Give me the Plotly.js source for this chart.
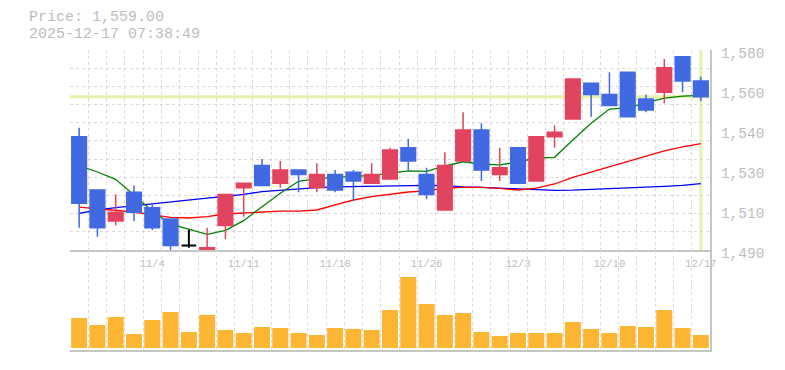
<!DOCTYPE html>
<html><head><meta charset="utf-8">
<script src="https://cdn.plot.ly/plotly-3.0.1.min.js"></script>
<style>html,body{margin:0;padding:0;background:#fff}#chart{width:785px;height:370px}</style>
</head><body><div id="chart"></div>
<script>
// ---- data ----
const dates = ['10/28','10/29','10/30','10/31','11/4','11/5','11/6','11/7','11/10','11/11',
  '11/12','11/13','11/14','11/17','11/18','11/19','11/20','11/21','11/25','11/26',
  '11/27','11/28','12/1','12/2','12/3','12/4','12/5','12/8','12/9','12/10',
  '12/11','12/12','12/15','12/16','12/17'];
const open  = [1541,1517,1503,1516,1509,1504,1492,1487,1501,1518,1528,1520,1526,1518,1524,1525,1520,1522,1536,1524,1508,1530,1544,1524,1536,1521,1541,1549,1565,1560,1570,1558,1561,1577,1566];
const high  = [1545,1517,1515,1519,1511,1504,1499,1500,1515,1520,1531,1530,1526,1529,1526,1526,1529,1536,1540,1527,1534,1552,1547,1536,1536,1541,1546,1567,1565,1570,1570,1560,1576,1577,1568];
const low   = [1500,1496,1501,1503,1499,1489,1491,1485,1495,1505,1519,1518,1516,1516,1516,1512,1520,1522,1526,1513,1508,1530,1521,1521,1520,1521,1536,1549,1550,1555,1550,1552,1556,1561,1557];
const close = [1511,1500,1507,1507,1500,1492,1492,1491,1515,1520,1519,1526,1524,1524,1517,1521,1524,1535,1530,1515,1528,1544,1526,1527,1520,1541,1543,1567,1560,1555,1550,1553,1572,1566,1559];
const volume = [30000,23000,31000,14000,28000,36000,16000,33000,18000,15000,21000,20000,15000,13000,20000,19000,18000,38000,71000,44000,33000,35000,16000,12000,15000,15000,15000,26000,19000,15000,22000,21000,38000,20000,13000];
const ma5  = [1528.0,1525.1,1521.8,1514.8,1507.6,1501.6,1499.2,1497.0,1498.8,1503.2,1509.5,1515.5,1520.9,1522.1,1522.7,1523.2,1523.6,1524.5,1525.6,1525.4,1527.8,1529.7,1528.7,1528.3,1529.6,1531.4,1531.7,1539.5,1547.0,1553.4,1554.0,1556.2,1558.3,1559.2,1559.6];
const ma25 = [1509.3,1508.6,1508.0,1507.1,1505.8,1504.7,1504.4,1505.0,1506.2,1506.7,1506.9,1507.5,1507.5,1508.0,1510.3,1512.5,1514.0,1514.9,1516.1,1516.6,1517.8,1518.2,1518.2,1517.7,1517.0,1517.8,1519.7,1522.7,1525.1,1527.4,1529.8,1532.3,1534.6,1536.4,1537.9];
const ma75 = [1506.5,1508.0,1509.1,1510.0,1510.7,1511.6,1512.7,1513.3,1514.1,1515.0,1516.3,1517.0,1517.5,1518.1,1518.4,1518.6,1518.8,1518.9,1519.1,1519.1,1519.0,1518.4,1518.2,1517.9,1517.7,1517.2,1516.8,1516.9,1517.2,1517.5,1517.8,1518.1,1518.6,1519.1,1519.9];
const tickDates = ['11/4','11/11','11/18','11/26','12/3','12/10','12/17'];
const priceTicks = [1490,1508,1526,1544,1562,1580];
const currentPrice = 1559.00;
const timestamp = '2025-12-17 07:38:49';

// ---- build ----
const idx = dates.map((d, i) => i);
const isDoji = idx.map(i => open[i] === close[i]);
const pick = (arr, want) => arr.filter((_, i) => isDoji[i] === want);
const UP = '#E2445F', DOWN = '#4169E1', DOJI = '#000000';
const GRID = '#d9d9d9', AXIS = '#c6c6c6', TXT = '#bdbdbd';
const xRange = [idx[0] - 0.5, idx[idx.length - 1] + 0.5];
const yRange = [priceTicks[0], priceTicks[priceTicks.length - 1]];

const maLine = (y, color) => ({type:'scatter', mode:'lines', x: idx, y: y, xaxis:'x', yaxis:'y',
  line:{color: color, width:1.3}, hoverinfo:'skip'});

const traces = [
  maLine(ma75, '#0000ff'),
  maLine(ma25, '#ff0000'),
  maLine(ma5, '#008000'),
  {type:'candlestick', x: pick(idx,false), open: pick(open,false), high: pick(high,false),
   low: pick(low,false), close: pick(close,false), xaxis:'x3', yaxis:'y3', whiskerwidth:0,
   increasing:{line:{color:UP, width:1.5}, fillcolor:UP},
   decreasing:{line:{color:DOWN, width:1.5}, fillcolor:DOWN}},
  {type:'candlestick', x: pick(idx,true), open: pick(open,true), high: pick(high,true),
   low: pick(low,true), close: pick(close,true), xaxis:'x3', yaxis:'y3', whiskerwidth:0,
   increasing:{line:{color:DOJI, width:2}, fillcolor:DOJI},
   decreasing:{line:{color:DOJI, width:2}, fillcolor:DOJI}},
  {type:'bar', x: idx, y: volume, xaxis:'x2', yaxis:'y2', marker:{color:'#FDB634', line:{width:0}}}
];

const minorGrid = (tick0, dtick) => ({tickmode:'linear', tick0: tick0, dtick: dtick, ticks:'',
  showgrid:true, gridcolor: GRID, griddash:'3px,3px', gridwidth:1});

const layout = {
  width:785, height:370, margin:{l:70, r:75, t:50, b:20},
  paper_bgcolor:'#ffffff', plot_bgcolor:'#ffffff',
  font:{family:'Liberation Mono, DejaVu Sans Mono, monospace', color: TXT},
  showlegend:false, bargap:0.125, boxgap:0.2, boxgroupgap:0, hovermode:false,
  xaxis:{domain:[0,1], anchor:'y', range: xRange, tickmode:'array',
    tickvals: tickDates.map(d => dates.indexOf(d)), ticktext: tickDates,
    ticks:'', showgrid:false, zeroline:false, showline:true, linecolor: AXIS, linewidth:2,
    tickfont:{size:10.5, color: TXT}, ticklabelstandoff:2,
    minor: minorGrid(xRange[0], 1), rangeslider:{visible:false}, fixedrange:true},
  yaxis:{domain:[1/3,1], anchor:'x', side:'right', range: yRange, tickmode:'array',
    tickvals: priceTicks,
    ticktext: priceTicks.map(v => (Math.round(v/10)*10).toLocaleString('en-US')),
    ticks:'', showgrid:false, zeroline:false, showline:true, linecolor: AXIS, linewidth:2,
    tickfont:{size:14.5, color: TXT}, ticklabelstandoff:6, ticklabelshift:3,
    minor: minorGrid(yRange[0], (yRange[1]-yRange[0])/11), fixedrange:true},
  xaxis2:{domain:[0,1], anchor:'y2', range: xRange, showticklabels:false, ticks:'',
    showgrid:false, zeroline:false, showline:true, linecolor: AXIS, linewidth:2,
    minor: minorGrid(xRange[0], 1), fixedrange:true},
  yaxis2:{domain:[0,1/3], anchor:'x2', side:'right', range:[-2000, 98000], showticklabels:false,
    ticks:'', showgrid:false, zeroline:false, showline:true, linecolor: AXIS, linewidth:2, fixedrange:true},
  xaxis3:{overlaying:'x', anchor:'y3', range: xRange, visible:false, rangeslider:{visible:false}, fixedrange:true},
  yaxis3:{overlaying:'y', anchor:'x3', range: yRange, visible:false, fixedrange:true},
  shapes:[
    {type:'line', xref:'x', yref:'y', x0: xRange[0], x1: xRange[1], y0: currentPrice, y1: currentPrice,
     line:{color:'#e3f5ab', width:3}, layer:'below'},
    {type:'line', xref:'x', yref:'y', x0: idx[idx.length-1], x1: idx[idx.length-1], y0: yRange[0], y1: yRange[1],
     line:{color:'#e3f5ab', width:3}, layer:'below'}
  ],
  annotations:[
    {xref:'paper', yref:'paper', x:-0.066, y:1.1067, xanchor:'left', yanchor:'middle', showarrow:false,
     borderpad:0,
     text:'Price: ' + currentPrice.toLocaleString('en-US',{minimumFractionDigits:2, maximumFractionDigits:2}),
     font:{size:15, color: TXT}},
    {xref:'paper', yref:'paper', x:-0.066, y:1.0533, xanchor:'left', yanchor:'middle', showarrow:false,
     borderpad:0, text: timestamp, font:{size:15, color: TXT}}
  ]
};

Plotly.newPlot('chart', traces, layout, {staticPlot:true, displayModeBar:false});
</script>
</body></html>
